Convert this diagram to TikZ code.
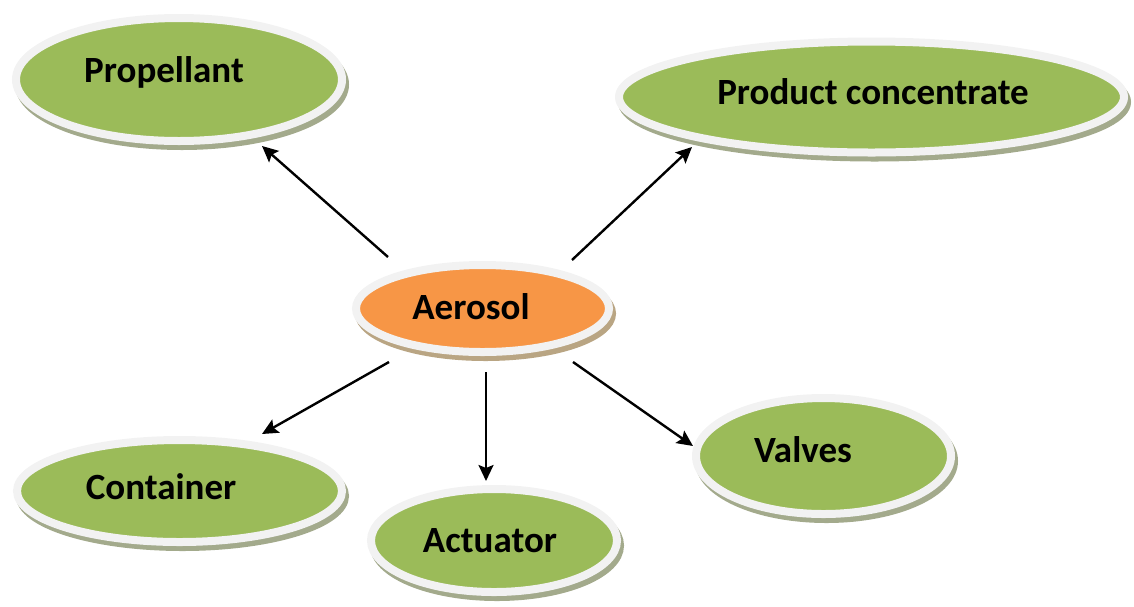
\documentclass[tikz,border=0pt]{standalone}
\usepackage{fontspec}
\setmainfont{Carlito}
\usetikzlibrary{arrows.meta,shapes.geometric}
\definecolor{leafgreen}{HTML}{9BBB59}
\definecolor{hubnode}{HTML}{F79646}
\definecolor{rimgray}{HTML}{F2F2F2}
\definecolor{shadegreen}{HTML}{A3AA8C}
\definecolor{shadeorange}{HTML}{B9A583}
\tikzset{
  bubble/.style={ellipse, inner sep=0pt, draw=rimgray, line width=8pt,
    preaction={draw=#1, fill=#1, line width=8pt,
      transform canvas={shift={(3pt,-5pt)}}}},
  leaf/.style={bubble=shadegreen, fill=leafgreen},
  hub/.style={bubble=shadeorange, fill=hubnode},
  caption/.style={anchor=base, inner sep=0pt, text=black,
    font=\bfseries\fontsize{37}{42}\selectfont},
  arr/.style={-{Stealth[length=16pt,width=15pt,inset=3pt]}, line width=2.4pt, black}
}
\begin{document}
\begin{tikzpicture}[x=1pt,y=-1pt]
\useasboundingbox (0,0) rectangle (1134,606);

% bubbles
\node[leaf, minimum width=326pt, minimum height=123pt] (prop) at (179,79.5) {};
\node[leaf, minimum width=505pt, minimum height=111pt] (prod) at (871.5,97) {};
\node[hub,  minimum width=253pt, minimum height=87pt]  (aero) at (482.5,308.5) {};
\node[leaf, minimum width=325pt, minimum height=102pt] (cont) at (179.5,491) {};
\node[leaf, minimum width=246pt, minimum height=103pt] (actu) at (494,540.5) {};
\node[leaf, minimum width=255pt, minimum height=116pt] (valv) at (823.5,456) {};

% captions
\node[caption] (prop-t) at (164,82)  {Propellant};
\node[caption] (prod-t) at (873,104) {Product concentrate};
\node[caption] (aero-t) at (471,319) {Aerosol};
\node[caption] (cont-t) at (161,499) {Container};
\node[caption] (actu-t) at (490,552) {Actuator};
\node[caption] (valv-t) at (803,462) {Valves};

% arrow ends around the hub and at the outer bubbles
\coordinate (aero-nw) at (388,257);
\coordinate (aero-ne) at (572,260);
\coordinate (aero-sw) at (389,362);
\coordinate (aero-s)  at (486,372);
\coordinate (aero-se) at (573,362);
\coordinate (prop-in) at (262,146);
\coordinate (prod-in) at (692,147);
\coordinate (cont-in) at (262,434);
\coordinate (actu-in) at (486,481);
\coordinate (valv-in) at (693,446);

\draw[arr] (aero-nw) -- (prop-in);
\draw[arr] (aero-ne) -- (prod-in);
\draw[arr] (aero-sw) -- (cont-in);
\draw[arr] (aero-s)  -- (actu-in);
\draw[arr] (aero-se) -- (valv-in);
\end{tikzpicture}
\end{document}
